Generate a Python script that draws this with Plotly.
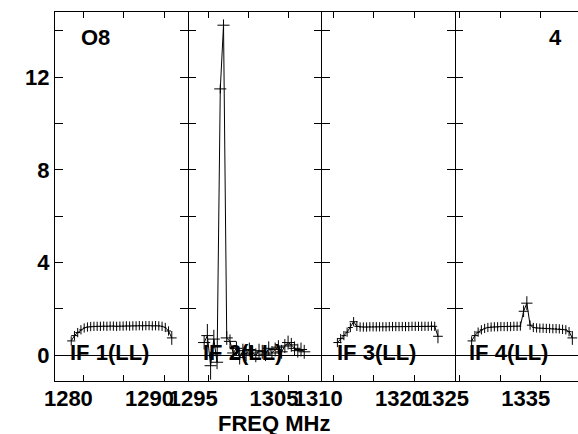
import plotly.graph_objects as go
from plotly.subplots import make_subplots

# channel frequencies (MHz) for the four IFs
freq_if1 = [1278.5, 1278.9, 1279.3, 1279.7, 1280.1, 1280.5, 1280.9, 1281.3, 1281.7, 1282.1, 1282.5,
            1282.9, 1283.3, 1283.7, 1284.1, 1284.5, 1284.9, 1285.3, 1285.7, 1286.1, 1286.5, 1286.9,
            1287.3, 1287.7, 1288.1, 1288.5, 1288.9, 1289.3, 1289.7, 1290.1, 1290.5, 1290.9]
freq_if2 = [1294.5, 1294.9, 1295.3, 1295.7, 1296.1, 1296.5, 1296.9, 1297.3, 1297.7, 1298.1, 1298.5,
            1298.9, 1299.3, 1299.7, 1300.1, 1300.5, 1300.9, 1301.3, 1301.7, 1302.1, 1302.5, 1302.9,
            1303.3, 1303.7, 1304.1, 1304.5, 1304.9, 1305.3, 1305.7, 1306.1, 1306.5, 1306.9]
freq_if3 = [1310.5, 1310.9, 1311.3, 1311.7, 1312.1, 1312.5, 1312.9, 1313.3, 1313.7, 1314.1, 1314.5,
            1314.9, 1315.3, 1315.7, 1316.1, 1316.5, 1316.9, 1317.3, 1317.7, 1318.1, 1318.5, 1318.9,
            1319.3, 1319.7, 1320.1, 1320.5, 1320.9, 1321.3, 1321.7, 1322.1, 1322.5, 1322.9]
freq_if4 = [1326.5, 1326.9, 1327.3, 1327.7, 1328.1, 1328.5, 1328.9, 1329.3, 1329.7, 1330.1, 1330.5,
            1330.9, 1331.3, 1331.7, 1332.1, 1332.5, 1332.9, 1333.3, 1333.7, 1334.1, 1334.5, 1334.9,
            1335.3, 1335.7, 1336.1, 1336.5, 1336.9, 1337.3, 1337.7, 1338.1, 1338.5, 1338.9]

# amplitudes
amp_if1 = [0.62, 0.85, 0.98, 1.1, 1.18, 1.22, 1.24, 1.25, 1.25, 1.25, 1.26, 1.25, 1.26, 1.26, 1.25, 1.26,
           1.26, 1.27, 1.26, 1.27, 1.27, 1.28, 1.27, 1.28, 1.28, 1.27, 1.28, 1.27, 1.25, 1.2, 1.05, 0.75]
amp_if2 = [0.55, 0.85, -0.45, 0.7, -0.3, 11.5, 14.25, 0.75, 0.6, 0.1, 0.3, -0.1, 0.2, 0.05, 0.25, 0.1,
           0.0, 0.2, 0.15, 0.05, 0.3, 0.1, 0.25, 0.35, 0.15, 0.4, 0.55, 0.45, 0.3, 0.2, 0.25, 0.15]
amp_if3 = [0.55, 0.72, 0.85, 1.0, 1.2, 1.45, 1.25, 1.22, 1.22, 1.22, 1.23, 1.23, 1.23, 1.23, 1.23, 1.23,
           1.24, 1.24, 1.24, 1.24, 1.24, 1.24, 1.24, 1.25, 1.25, 1.25, 1.25, 1.25, 1.25, 1.26, 1.25, 0.82]
amp_if4 = [0.62, 0.85, 1.0, 1.1, 1.16, 1.2, 1.22, 1.23, 1.23, 1.24, 1.24, 1.24, 1.24, 1.25, 1.25, 1.26,
           1.9, 2.25, 1.3, 1.2, 1.18, 1.17, 1.17, 1.16, 1.16, 1.15, 1.15, 1.14, 1.12, 1.1, 1.02, 0.75]

# half sizes of the crosses (MHz, amplitude)
dx_if1 = [0.5, 0.4, 0.3, 0.2] + [0.12] * 26 + [0.3, 0.6]
dy_if1 = [0.2] * 31 + [0.3]
dx_if2 = [0.75] * 32
dy_if2 = [0.3, 0.5, 0.6, 0.4, 0.3, 0.2, 0.25] + [0.3] * 25
dx_if3 = [0.5, 0.4, 0.3, 0.3, 0.3, 0.5, 0.3] + [0.12] * 23 + [0.3, 0.6]
dy_if3 = [0.2] * 31 + [0.3]
dx_if4 = [0.5, 0.4, 0.3, 0.2] + [0.12] * 12 + [0.6, 0.7, 0.4] + [0.12] * 11 + [0.3, 0.6]
dy_if4 = [0.2] * 16 + [0.25, 0.3, 0.2] + [0.2] * 12 + [0.3]

panels = [
    (freq_if1, amp_if1, dx_if1, dy_if1, 'IF 1(LL)'),
    (freq_if2, amp_if2, dx_if2, dy_if2, 'IF 2(LL)'),
    (freq_if3, amp_if3, dx_if3, dy_if3, 'IF 3(LL)'),
    (freq_if4, amp_if4, dx_if4, dy_if4, 'IF 4(LL)'),
]

x_ranges = [[1276.5, 1292.9], [1292.5, 1309.1], [1308.6, 1325.0], [1324.45, 1339.6]]
x_domains = [[0, 0.2543], [0.2543, 0.5105], [0.5105, 0.7648], [0.7648, 1.0]]
x_tickvals = [[1280, 1285, 1290], [1295, 1300, 1305], [1310, 1315, 1320], [1325, 1330, 1335]]

y_tickvals = [0, 2, 4, 6, 8, 10, 12, 14]
y_ticktext = ['0', '', '4', '', '8', '', '12', '']

# 세로 테두리 선 색: 2번 패널은 선을 투명하게 (1, 3번 패널의 선이 구분선 역할)
y_linecolors = ['black', 'rgba(0,0,0,0)', 'black', 'rgba(0,0,0,0)']

FONT = 'Liberation Sans, Arial, sans-serif'

fig = make_subplots(rows=1, cols=4, shared_yaxes=True, horizontal_spacing=0)

for i, (fx, amp, dx, dy, label) in enumerate(panels):
    fig.add_trace(go.Scatter(
        x=fx, y=amp, mode='lines',
        line=dict(color='black', width=1),
        error_x=dict(type='data', array=dx, color='black', thickness=1, width=0),
        error_y=dict(type='data', array=dy, color='black', thickness=1, width=0),
        showlegend=False, hoverinfo='skip'
    ), row=1, col=i + 1)

    tv = x_tickvals[i]
    fig.update_xaxes(
        range=x_ranges[i], domain=x_domains[i],
        tickvals=tv, ticktext=[str(tv[0]), '', str(tv[2])],
        ticks='inside', ticklen=6, tickcolor='black',
        showline=True, linecolor='black', linewidth=1, mirror='ticks',
        showgrid=False, zeroline=False,
        tickfont=dict(family=FONT, size=22, color='black', weight='bold'),
        ticklabelshift=-15, ticklabelstandoff=-2,
        row=1, col=i + 1
    )
    fig.update_yaxes(
        range=[-1.11, 14.82],
        tickvals=y_tickvals, ticktext=y_ticktext,
        ticks='inside', ticklen=8, tickcolor='black',
        showline=True, linecolor=y_linecolors[i], linewidth=1,
        mirror='ticks' if i < 3 else False,
        showgrid=False, zeroline=True, zerolinecolor='black', zerolinewidth=1,
        showticklabels=(i == 0),
        tickfont=dict(family=FONT, size=22, color='black', weight='bold'),
        row=1, col=i + 1
    )

    # IF label sitting on the zero line
    fig.add_annotation(
        text=label, xref='x%s domain' % ('' if i == 0 else i + 1), yref='y%s' % ('' if i == 0 else i + 1),
        x=0.1, y=0, xanchor='left', yanchor='middle', yshift=3, showarrow=False,
        font=dict(family=FONT, size=22, color='black', weight='bold')
    )

fig.add_annotation(text='O8', xref='paper', yref='paper', x=0.0459, y=0.932,
                   xanchor='left', yanchor='middle', showarrow=False,
                   font=dict(family=FONT, size=22, color='black', weight='bold'))
fig.add_annotation(text='4', xref='paper', yref='paper', x=0.973, y=0.932,
                   xanchor='right', yanchor='middle', showarrow=False,
                   font=dict(family=FONT, size=22, color='black', weight='bold'))
fig.add_annotation(text='FREQ MHz', xref='paper', yref='paper', x=0.419, y=-0.115,
                   xanchor='center', yanchor='middle', showarrow=False,
                   font=dict(family=FONT, size=22, color='black', weight='bold'))

fig.update_layout(
    width=578, height=434,
    margin=dict(l=55, r=0, t=12, b=53),
    paper_bgcolor='white', plot_bgcolor='white',
    showlegend=False
)

# 브라우저 기본 body margin(8px) 제거
fig.write_html("out.html", config={'displayModeBar': False},
               post_script="document.body.style.margin='0';")
